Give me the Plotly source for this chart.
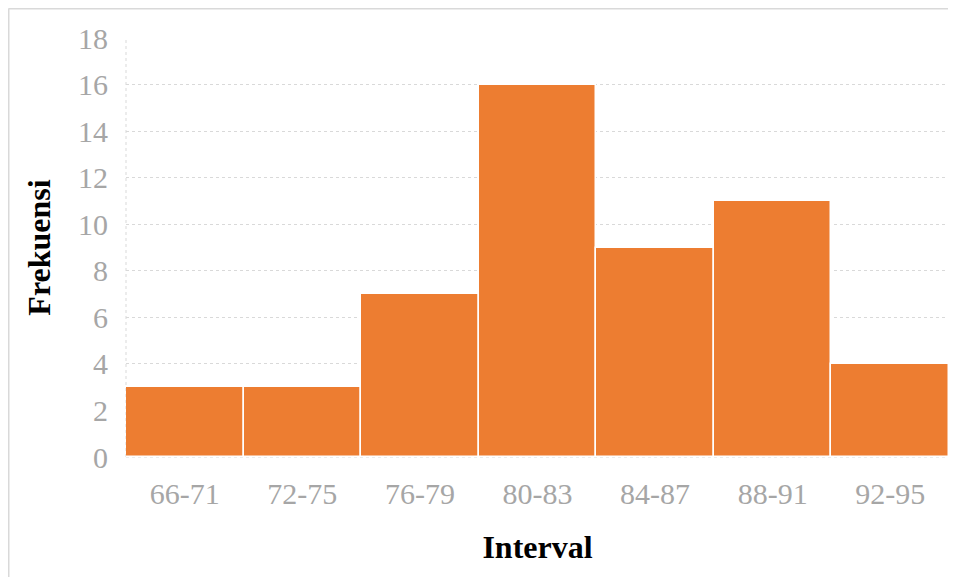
import plotly.graph_objects as go

categories = ["66-71", "72-75", "76-79", "80-83", "84-87", "88-91", "92-95"]
frekuensi = [3, 3, 7, 16, 9, 11, 4]
y_ticks = [0, 2, 4, 6, 8, 10, 12, 14, 16, 18]

# page body adds an 8px offset; figure sized to fill the remaining window
W, H = 948, 569
L, R, T, B = 118, 7, 30, 120
pw, ph = W - L - R, H - T - B

def px(fx):
    return (fx - L) / pw

def py(fy):
    return (H - B - fy) / ph

grid = "#d9d9d9"

fig = go.Figure(go.Bar(
    x=categories, y=frekuensi,
    marker=dict(color="#ED7D31", line=dict(color="white", width=1.5)),
))

fig.update_layout(
    width=W, height=H,
    margin=dict(l=L, r=R, t=T, b=B),
    paper_bgcolor="white", plot_bgcolor="white",
    bargap=0,
    showlegend=False,
    font=dict(family="Liberation Serif, Times New Roman, serif"),
    xaxis=dict(
        showgrid=False, showline=False,
        tickfont=dict(size=30, color="#a6a6a6"), ticks="",
        ticklabelstandoff=16,
        title=dict(text="<b>Interval</b>", font=dict(size=32, color="black"), standoff=26),
    ),
    yaxis=dict(
        range=[0, 18], tickvals=y_ticks,
        showgrid=True, gridcolor=grid, griddash="dot", gridwidth=1,
        showline=False, zeroline=False,
        tickfont=dict(size=30, color="#a6a6a6"), ticks="",
        ticklabelstandoff=17,
        title=dict(text="<b>Frekuensi</b>", font=dict(size=32, color="black"), standoff=17),
    ),
    shapes=[
        # left axis line (dotted)
        dict(type="line", xref="paper", yref="paper", x0=0, x1=0, y0=0, y1=1,
             line=dict(color=grid, width=1, dash="dot"), layer="below"),
        # bottom axis line (dotted)
        dict(type="line", xref="paper", yref="paper", x0=0, x1=1, y0=0, y1=0,
             line=dict(color=grid, width=1, dash="dot"), layer="below"),
        # outer chart border: top and left
        dict(type="line", xref="paper", yref="paper", x0=px(0.5), x1=px(W), y0=py(0.75), y1=py(0.75),
             line=dict(color="#d9d9d9", width=1.5), layer="below"),
        dict(type="line", xref="paper", yref="paper", x0=px(0.75), x1=px(0.75), y0=py(0.5), y1=py(H),
             line=dict(color="#d9d9d9", width=1.5), layer="below"),
    ],
)

fig.write_html("out.html")
